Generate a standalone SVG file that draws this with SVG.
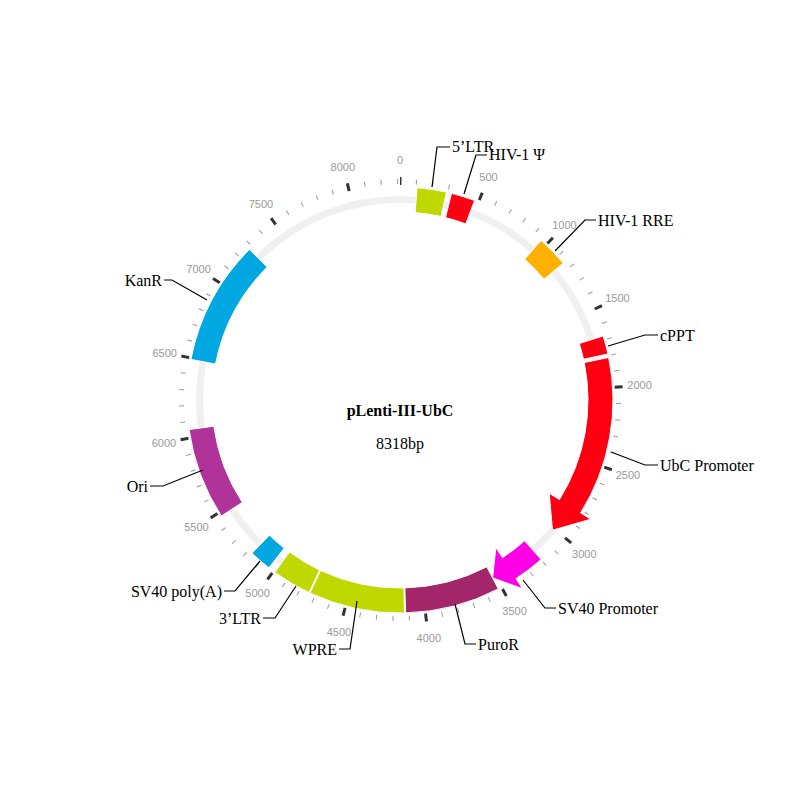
<svg xmlns="http://www.w3.org/2000/svg" width="800" height="800" viewBox="0 0 800 800">
<style>
.lbl{font-family:"Liberation Serif",serif;font-size:16px;fill:#000}
.tk{font-family:"Liberation Sans",sans-serif;font-size:11px;fill:#999;text-anchor:middle}
.ld{fill:none;stroke:#000;stroke-width:1.2}
.f{stroke:#fff;stroke-width:1}
</style>
<rect width="800" height="800" fill="#fff"/>
<circle cx="400" cy="400" r="200.5" fill="none" stroke="#f0f0f0" stroke-width="7"/>
<g id="ticks">
<circle cx="400" cy="400" r="218.5" fill="none" stroke="#999" stroke-width="5" stroke-dasharray="1 15.505" stroke-dashoffset="0.5" transform="rotate(-90 400 400)"/>
<circle cx="400" cy="400" r="219" fill="none" stroke="#333" stroke-width="8" stroke-dasharray="3 79.7" stroke-dashoffset="1.5" transform="rotate(-90 400 400)"/>
<text class="tk" x="400" y="164">0</text>
<text class="tk" x="488.5" y="181">500</text>
<text class="tk" x="564.5" y="229">1000</text>
<text class="tk" x="617.4" y="302">1500</text>
<text class="tk" x="639.6" y="389">2000</text>
<text class="tk" x="628" y="479">2500</text>
<text class="tk" x="584.3" y="558">3000</text>
<text class="tk" x="514.6" y="615">3500</text>
<text class="tk" x="428.8" y="642">4000</text>
<text class="tk" x="338.9" y="636">4500</text>
<text class="tk" x="257.6" y="597">5000</text>
<text class="tk" x="196.4" y="531">5500</text>
<text class="tk" x="163.9" y="447">6000</text>
<text class="tk" x="164.7" y="357">6500</text>
<text class="tk" x="198.6" y="273">7000</text>
<text class="tk" x="260.9" y="208">7500</text>
<text class="tk" x="342.8" y="171">8000</text>
</g>
<g id="f-5LTR"><path class="f" fill="#bfd900" d="M417.1,187.7 A213 213 0 0 1 446.5,192.1 L441,216.5 A188 188 0 0 0 415.1,212.6 Z"/></g>
<g id="f-psi"><path class="f" fill="#ff0013" d="M451.5,193.3 A213 213 0 0 1 474.6,200.5 L465.8,223.9 A188 188 0 0 0 445.5,217.6 Z"/></g>
<g id="f-rre"><path class="f" fill="#ffb000" d="M541.1,240.5 A213 213 0 0 1 563.2,263.1 L544,279.2 A188 188 0 0 0 524.6,259.2 Z"/></g>
<g id="f-cppt"><path class="f" fill="#ff0013" d="M603.1,336 A213 213 0 0 1 608,353.9 L583.5,359.3 A188 188 0 0 0 579.3,343.5 Z"/></g>
<g id="f-ubc"><path class="f" fill="#ff0013" d="M608.7,357.5 A213 213 0 0 1 580.6,512.9 L590.8,519.2 L552.5,530.2 L549.2,493.3 L559.4,499.6 A188 188 0 0 0 584.2,362.5 Z"/></g>
<g id="f-sv40p"><path class="f" fill="#ff00e6" d="M541.1,559.5 A213 213 0 0 1 516,578.6 L522.5,588.7 L492.6,577.8 L495.9,547.6 L502.4,557.7 A188 188 0 0 0 524.6,540.8 Z"/></g>
<g id="f-puro"><path class="f" fill="#a3266a" d="M498.3,588.9 A213 213 0 0 1 405.6,612.9 L404.9,587.9 A188 188 0 0 0 486.8,566.8 Z"/></g>
<g id="f-wpre"><path class="f" fill="#bfd900" d="M404.5,613 A213 213 0 0 1 310,593 L320.6,570.4 A188 188 0 0 0 403.9,588 Z"/></g>
<g id="f-3LTR"><path class="f" fill="#bfd900" d="M309,592.6 A213 213 0 0 1 274.8,572.3 L289.5,552.1 A188 188 0 0 0 319.6,570 Z"/></g>
<g id="f-sv40pa"><path class="f" fill="#00a7e1" d="M268.9,567.8 A213 213 0 0 1 252,553.2 L269.4,535.2 A188 188 0 0 0 284.2,548.1 Z"/></g>
<g id="f-ori"><path class="f" fill="#b0339a" d="M221.4,516 A213 213 0 0 1 189.1,429.6 L213.8,426.2 A188 188 0 0 0 242.3,502.4 Z"/></g>
<g id="f-kanr"><path class="f" fill="#00a7e1" d="M190.9,359.4 A213 213 0 0 1 249.4,249.4 L267.1,267.1 A188 188 0 0 0 215.5,364.1 Z"/></g>
<g id="connectors">
<polyline class="ld" points="432,187 437,147 450,147"/>
<polyline class="ld" points="464,194 476,155 487,155"/>
<polyline class="ld" points="555,251 585,220 596,220"/>
<polyline class="ld" points="608,346 645,335 658,335"/>
<polyline class="ld" points="611,452 645,465 658,465"/>
<polyline class="ld" points="523,580 545,608 556,608"/>
<polyline class="ld" points="455,604 465,644 476,644"/>
<polyline class="ld" points="357,601 350,649 339,649"/>
<polyline class="ld" points="296,586 275,618 263,618"/>
<polyline class="ld" points="260,561 235,591 224,591"/>
<polyline class="ld" points="203,470 163,486 150,486"/>
<polyline class="ld" points="207,300 172,280 164,280"/>
</g>
<g id="labels">
<text class="lbl" x="452" y="152">5’LTR</text>
<text class="lbl" x="489" y="160">HIV-1 Ψ</text>
<text class="lbl" x="598" y="226">HIV-1 RRE</text>
<text class="lbl" x="660" y="341">cPPT</text>
<text class="lbl" x="660" y="471">UbC Promoter</text>
<text class="lbl" x="558" y="614">SV40 Promoter</text>
<text class="lbl" x="478" y="650">PuroR</text>
<text class="lbl" x="337" y="655" text-anchor="end">WPRE</text>
<text class="lbl" x="261" y="624" text-anchor="end">3’LTR</text>
<text class="lbl" x="222" y="597" text-anchor="end">SV40 poly(A)</text>
<text class="lbl" x="148" y="492" text-anchor="end">Ori</text>
<text class="lbl" x="162" y="286" text-anchor="end">KanR</text>
</g>
<g id="title">
<text x="400" y="416" text-anchor="middle" style="font-family:'Liberation Serif',serif;font-size:16px;font-weight:bold">pLenti-III-UbC</text>
<text x="400" y="449" text-anchor="middle" style="font-family:'Liberation Serif',serif;font-size:16px">8318bp</text>
</g>
</svg>
